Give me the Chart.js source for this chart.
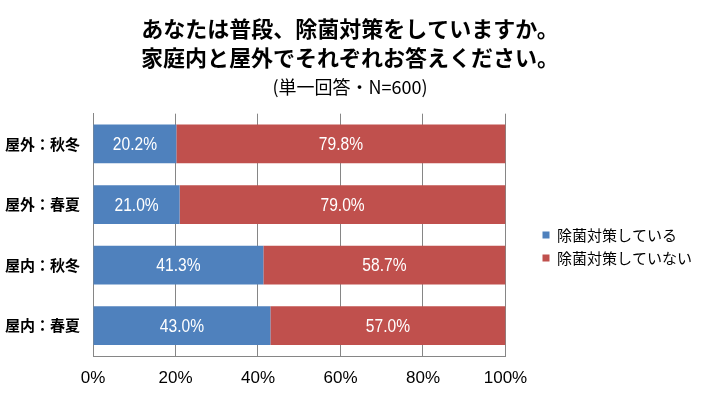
<!DOCTYPE html>
<html>
<head>
<meta charset="utf-8">
<script src="https://cdn.jsdelivr.net/npm/chart.js@4/dist/chart.umd.min.js"></script>
<style>
  html, body { margin: 0; padding: 0; background: #fff; }
  #wrap { width: 706px; height: 395px; }
</style>
</head>
<body>
<div id="wrap"><canvas id="canvas" width="706" height="395"></canvas></div>
<script>
// データ
const kategorie = ['屋外：秋冬', '屋外：春夏', '屋内：秋冬', '屋内：春夏']
const shiteiru = [20.2, 21.0, 41.3, 43.0]
const shiteinai = [79.8, 79.0, 58.7, 57.0]
const seriesNames = ['除菌対策している', '除菌対策していない']
const xTicks = [0, 20, 40, 60, 80, 100]

const jp = '"Noto Sans CJK JP", "Noto Sans", sans-serif'
const sans = '"Liberation Sans", Arial, sans-serif'

// 棒の中に白い数字を書く（横に少し詰めて細い字にする）
const labelPlugin = {
    id: 'barLabels',
    afterDatasetsDraw(chart) {
        const ctx = chart.ctx
        chart.data.datasets.forEach(function(ds, i) {
            const meta = chart.getDatasetMeta(i)
            meta.data.forEach(function(bar, j) {
                const cx = (bar.x + bar.base) / 2
                ctx.save()
                ctx.translate(cx, bar.y + 1)
                ctx.scale(0.82, 1)
                ctx.fillStyle = '#ffffff'
                ctx.font = '19px ' + sans
                ctx.textAlign = 'center'
                ctx.textBaseline = 'middle'
                ctx.fillText(ds.data[j].toFixed(1) + '%', 0, 0)
                ctx.restore()
            })
        })
    }
}

// 凡例の箱を広げて、グラフと凡例の間をあける
const legendShift = {
    id: 'legendShift',
    afterInit(chart) {
        const lg = chart.legend
        if (!lg) return
        const fit = lg.fit
        lg.fit = function() {
            fit.call(this)
            this.width += 27
        }
    },
    afterLayout(chart) {
        const lg = chart.legend
        if (!lg) return
        const dx = chart.chartArea.right + 29 - lg.left
        lg.left += dx
        lg.right += dx
        lg.top += 49
        lg.bottom += 49
    }
}

const ctx = document.getElementById('canvas').getContext('2d')
const config = {
    type: 'bar',
    data: {
        labels: kategorie,
        datasets: [{
            label: seriesNames[0],
            data: shiteiru,
            backgroundColor: '#4f81bd'
        }, {
            label: seriesNames[1],
            data: shiteinai,
            backgroundColor: '#c0504d'
        }]
    },
    options: {
        indexAxis: 'y',
        responsive: false,
        animation: false,
        barPercentage: 1,
        categoryPercentage: 0.64,
        layout: { padding: { left: 0, right: 6, top: 6, bottom: 6 } },
        plugins: {
            title: {
                display: true,
                text: ['あなたは普段、除菌対策をしていますか。', '家庭内と屋外でそれぞれお答えください。'],
                color: '#000',
                font: { family: jp, size: 22, weight: 'bold', lineHeight: 1.32 },
                padding: { top: 8, bottom: 0 }
            },
            subtitle: {
                display: true,
                text: '(単一回答・N=600)',
                color: '#000',
                font: { family: jp, size: 18, lineHeight: 1.2 },
                padding: { top: 4, bottom: 16 }
            },
            legend: {
                position: 'right',
                labels: {
                    color: '#000',
                    boxWidth: 7,
                    boxHeight: 7,
                    padding: 8,
                    font: { family: jp, size: 15 }
                }
            },
            tooltip: { enabled: false }
        },
        scales: {
            x: {
                stacked: true,
                min: 0,
                max: 100,
                afterBuildTicks: function(axis) {
                    axis.ticks = xTicks.map(function(v) { return { value: v } })
                },
                afterFit: function(axis) {
                    axis.height = 33
                },
                ticks: {
                    color: '#000',
                    padding: 12,
                    font: { family: sans, size: 17 },
                    callback: function(v) { return v + '%' }
                },
                grid: { color: '#868686', lineWidth: 1, drawTicks: false, tickLength: 0 },
                border: { color: '#868686' }
            },
            y: {
                stacked: true,
                afterFit: function(axis) {
                    axis.width = 93
                },
                ticks: {
                    color: '#000',
                    padding: 13,
                    font: { family: jp, size: 15, weight: 'bold' }
                },
                grid: { display: false, drawTicks: false, tickLength: 0 },
                border: { color: '#868686' }
            }
        }
    },
    plugins: [labelPlugin, legendShift]
}
new Chart(ctx, config)
</script>
</body>
</html>
